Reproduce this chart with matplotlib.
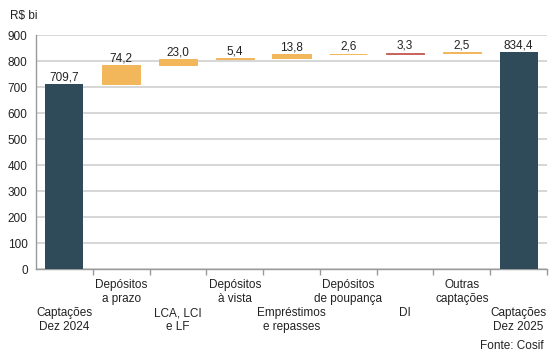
import matplotlib
matplotlib.use("Agg")
import matplotlib.pyplot as plt
import numpy as np

plt.rcParams['font.family'] = ['Liberation Sans', 'DejaVu Sans']

categories = ["Captações\nDez 2024", "Depósitos\na prazo", "LCA, LCI\ne LF", "Depósitos\nà vista",
              "Empréstimos\ne repasses", "Depósitos\nde poupança", "DI", "Outras\ncaptações",
              "Captações\nDez 2025"]
start_total = 709.7
changes = [74.2, 23.0, 5.4, 13.8, 2.6, 3.3, 2.5]
end_total = 834.4
labels = ["709,7", "74,2", "23,0", "5,4", "13,8", "2,6", "3,3", "2,5", "834,4"]

DARK = "#2F4B59"
ORANGE = "#F2B65B"
RED = "#C9625C"
change_colors = [ORANGE, ORANGE, ORANGE, ORANGE, ORANGE, RED, ORANGE]

fig = plt.figure(figsize=(5.49, 3.56), dpi=100)
ax = fig.add_axes([36/549, 1 - 269/356, (547-36)/549, (269-35)/356])

x = np.arange(len(categories))
w = 0.67

# totals
ax.bar(x[0], start_total, width=w, color=DARK, zorder=3)
ax.bar(x[-1], end_total, width=w, color=DARK, zorder=3)

# floating change bars (thin edge keeps the small steps visible)
base = start_total
tops = [start_total]
for i, (v, c) in enumerate(zip(changes, change_colors)):
    ax.bar(x[i + 1], v, bottom=base, width=w, color=c, edgecolor=c, linewidth=0.7, zorder=3)
    base += v
    tops.append(base)
tops.append(end_total)

for xi, t, lab in zip(x, tops, labels):
    ax.annotate(lab, (xi, t), xytext=(0, 0.5), textcoords="offset points",
                ha="center", va="bottom", fontsize=8.5, color="#222222", zorder=4)

ax.set_xlim(-0.5, len(categories) - 0.5)
ax.set_ylim(0, 900)
ax.set_yticks(np.arange(0, 901, 100))
ax.yaxis.grid(True, color="#D6D6D6", linewidth=1.4, zorder=0)
ax.set_axisbelow(True)
ax.tick_params(axis="y", length=0, labelsize=8.5, pad=6, labelcolor="#222222")

# category labels in two staggered rows
ax.set_xticks(x)
ax.set_xticklabels(categories, fontsize=8.5, color="#222222", linespacing=1.17)
ax.tick_params(axis="x", length=0)
for i, tk in enumerate(ax.xaxis.get_major_ticks()):
    tk.set_pad(7.5 if i % 2 == 1 else 27.5)
ax.set_xticks(np.arange(0.5, len(categories) - 0.5 + 1, 1), minor=True)
ax.tick_params(axis="x", which="minor", length=4, direction="out", color="#9A9A9A", width=1)

for s in ["top", "right"]:
    ax.spines[s].set_visible(False)
for s in ["left", "bottom"]:
    ax.spines[s].set_color("#9A9A9A")
    ax.spines[s].set_linewidth(1)

fig.text(10/549, 1 - 16/356, "R$ bi", fontsize=8.5, color="#222222", va="center", ha="left")
fig.text(544/549, 1 - 346/356, "Fonte: Cosif", fontsize=8.5, color="#222222", va="center", ha="right")

fig.savefig("out.png", dpi=100)
